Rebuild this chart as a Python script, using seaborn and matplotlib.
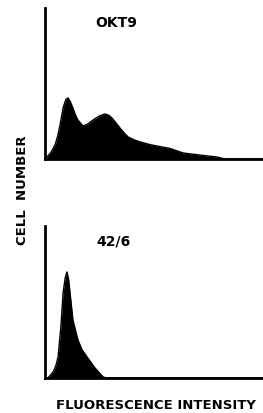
import numpy as np
import pandas as pd
import seaborn as sns
import matplotlib.pyplot as plt

sns.set_style("white")
plt.rcParams['font.family'] = ['DejaVu Sans']
plt.rcParams['text.color'] = 'black'

# OKT9 histogram (intensity 0-100, relative cell number 0-100)
okt9_x = [0, 0.9, 2.8, 4.6, 5.8, 6.9, 8.3, 9.6, 10.6, 11.6, 12.8, 14.0, 15.1, 17.4,
          19.5, 22.0, 25.0, 27.5, 29.2, 30.7, 32.5, 34.4, 36.3, 38.1, 41.0, 43.6,
          48.2, 51.4, 57.3, 63.3, 71.1, 78.9, 82.6, 100]
okt9_y = [0, 1.3, 4.5, 9.3, 15.0, 22.5, 33.8, 39.5, 40.4, 38.0, 33.8, 29.0, 25.8, 21.9,
          23.0, 25.8, 28.5, 29.8, 29.0, 27.2, 24.0, 20.5, 17.3, 14.6, 12.6, 11.3,
          9.5, 8.6, 7.0, 4.0, 2.6, 1.3, 0, 0]

# 42/6 histogram
ab426_x = [0, 1.4, 3.7, 5.0, 6.0, 7.3, 8.3, 9.3, 10.1, 10.8, 11.5, 12.8, 15.1,
           17.0, 19.3, 22.9, 26.6, 28.0, 100]
ab426_y = [0, 0, 3.9, 8.0, 13.8, 33.6, 55.9, 66.0, 69.7, 65.0, 55.9, 38.2, 25.0,
           18.5, 13.8, 6.6, 0.7, 0, 0]

panels = [("OKT9", okt9_x, okt9_y), ("42/6", ab426_x, ab426_y)]

fig = plt.figure(figsize=(2.63, 4.13), dpi=100)
rects = [[0.171, 0.615, 0.829, 0.366], [0.171, 0.085, 0.829, 0.368]]

for rect, (name, xs, ys) in zip(rects, panels):
    ax = fig.add_axes(rect)
    df = pd.DataFrame({"x": xs, "y": ys})
    sns.lineplot(data=df, x="x", y="y", color="black", linewidth=1.0, ax=ax)
    ax.fill_between(df["x"], df["y"], 0, color="black", linewidth=0)
    ax.set_xlim(0, 100)
    ax.set_ylim(0, 100)
    ax.set_xticks([])
    ax.set_yticks([])
    ax.set_xlabel("")
    ax.set_ylabel("")
    sns.despine(ax=ax)
    for s in ["left", "bottom"]:
        ax.spines[s].set_linewidth(2.0)
        ax.spines[s].set_color("black")
    ax.text(32.6 if name == "OKT9" else 31.5, 90, name, ha="center", va="center",
            fontsize=10, fontweight="bold", color="black")

fig.text(0.084, 0.54, "CELL  NUMBER", rotation=90, ha="center", va="center",
         fontsize=9.5, fontweight="bold", color="black")
fig.text(0.593, 0.019, "FLUORESCENCE INTENSITY", ha="center", va="center",
         fontsize=9.5, fontweight="bold", color="black")

fig.savefig("out.png", dpi=100)
